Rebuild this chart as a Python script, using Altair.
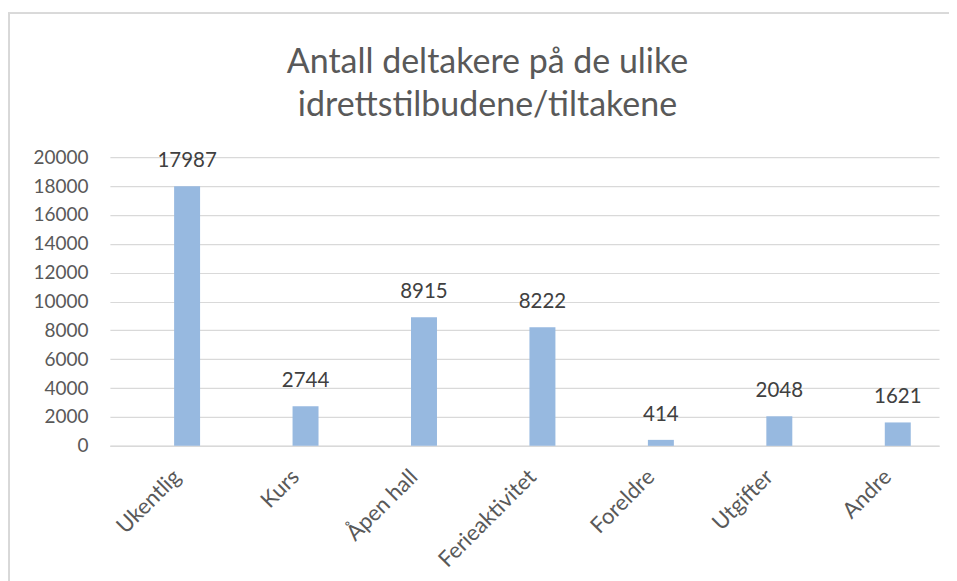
import altair as alt
import pandas as pd

categories = ["Ukentlig", "Kurs", "Åpen hall", "Ferieaktivitet", "Foreldre", "Utgifter", "Andre"]
values = [17987, 2744, 8915, 8222, 414, 2048, 1621]
y_ticks = [0, 2000, 4000, 6000, 8000, 10000, 12000, 14000, 16000, 18000, 20000]
title_lines = ["Antall deltakere på de ulike", "idrettstilbudene/tiltakene"]

df = pd.DataFrame({"kategori": categories, "antall": values})

x = alt.X("kategori:N", sort=categories, title=None,
          scale=alt.Scale(paddingInner=0, paddingOuter=0),
          axis=alt.Axis(labelAngle=-45, labelFont="Lato", labelFontSize=22,
                        labelColor="#595959", ticks=False, domain=True,
                        domainColor="#D9D9D9", domainWidth=1.5, labelPadding=20,
                        labelOffset=1, grid=False))
y = alt.Y("antall:Q", title=None,
          scale=alt.Scale(domain=[0, 20000]),
          axis=alt.Axis(values=y_ticks, labelFont="Lato", labelFontSize=19,
                        labelColor="#595959", ticks=False, domain=False,
                        gridColor="#D9D9D9", gridWidth=1.2, labelPadding=22,
                        labelOverlap=False, format="d"))

bars = alt.Chart(df).mark_bar(color="#97B9E0", size=26, xOffset=18).encode(x=x, y=y)
labels = alt.Chart(df).mark_text(font="Lato", fontSize=20.5, color="#404040",
                                 baseline="alphabetic", dy=-19, dx=18).encode(
    x=x, y=y, text="antall:Q")

border_top = alt.Chart(df).mark_rule(color="#D9D9D9", strokeWidth=1.5).encode(
    x=alt.value(-102), x2=alt.value(870), y=alt.value(-144))
border_left = alt.Chart(df).mark_rule(color="#D9D9D9", strokeWidth=1.5).encode(
    x=alt.value(-101), y=alt.value(-144), y2=alt.value(440))

chart = alt.layer(border_top, border_left, bars, labels).properties(
    width=830, height=289,
    autosize=alt.AutoSizeParams(type="none"),
    padding={"left": 102, "top": 149, "right": 10, "bottom": 135},
    title=alt.TitleParams(text=title_lines, font="Lato", fontSize=34,
                          fontWeight="normal", color="#595959", lineHeight=43,
                          anchor="middle", frame="group", dx=-37, offset=-111),
).configure_view(stroke=None)

chart.save("out.html", embed_options={"renderer": "svg", "actions": False})
